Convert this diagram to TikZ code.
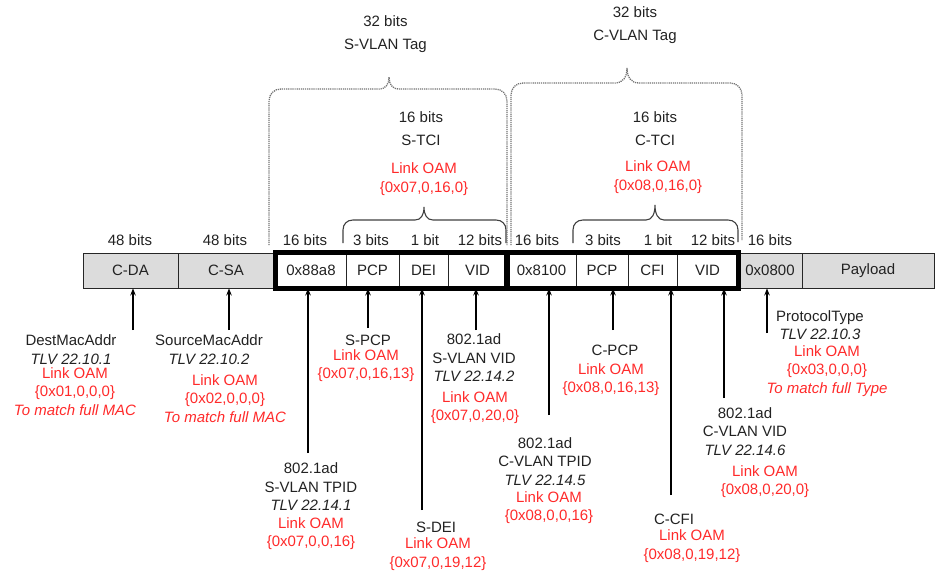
\documentclass[tikz,border=0pt]{standalone}
\usepackage{fontspec}
\setmainfont{Liberation Sans}
\usetikzlibrary{arrows.meta}
\definecolor{oamred}{HTML}{FF2A2A}
\definecolor{fieldgray}{HTML}{DCDCDC}
\definecolor{inkgray}{HTML}{222222}
\begin{document}
\begin{tikzpicture}[x=1pt,y=-1pt,
  txt/.style={font=\fontsize{15}{18.5}\selectfont, align=center, inner sep=0pt, text=inkgray},
  oamtxt/.style={txt, text=oamred},
  field/.style={draw=black!85, line width=0.9pt, minimum height=35pt, inner sep=0pt, txt},
  grayfield/.style={field, fill=fieldgray},
  tagbox/.style={draw=black, line width=4.5pt},
  arr/.style={draw=black, line width=1.1pt, -{Stealth[length=7pt,width=5.5pt]}},
  tcibrace/.style={draw=black!75, line width=1.1pt},
  tagbrace/.style={draw=black!55, line width=1.3pt, dash pattern=on 1.2pt off 0.9pt}
]
\useasboundingbox (0,0) rectangle (935,571);

% ---------- frame fields ----------
\node[grayfield, minimum width=95] (cda) at (130.5,270.5) {C-DA};
\node[grayfield, minimum width=96] (csa) at (226,270.5) {C-SA};
\node[field, minimum width=70] (tpidS) at (311,270.5) {0x88a8};
\node[field, minimum width=53] (pcpS) at (372.5,270.5) {PCP};
\node[field, minimum width=49] (dei) at (423.5,270.5) {DEI};
\node[field, minimum width=59] (vidS) at (477.5,270.5) {VID};
\node[field, minimum width=69] (tpidC) at (541.5,270.5) {0x8100};
\node[field, minimum width=52] (pcpC) at (602,270.5) {PCP};
\node[field, minimum width=49] (cfi) at (652.5,270.5) {CFI};
\node[field, minimum width=61] (vidC) at (707.5,270.5) {VID};
\node[grayfield, minimum width=64] (etype) at (770,270.5) {0x0800};
\node[grayfield, minimum width=132] (payload) at (868,270.5) {Payload};
\draw[tagbox] (tpidS.north west) rectangle (vidS.south east);
\draw[tagbox] (tpidC.north west) rectangle (vidC.south east);

% ---------- bit widths ----------
\node[txt] (b1) at (130,240) {48 bits};
\node[txt] (b2) at (225,240) {48 bits};
\node[txt] (b3) at (305,240) {16 bits};
\node[txt] (b4) at (371,240) {3 bits};
\node[txt] (b5) at (425,240) {1 bit};
\node[txt] (b6) at (480,240) {12 bits};
\node[txt] (b7) at (537,240) {16 bits};
\node[txt] (b8) at (603,240) {3 bits};
\node[txt] (b9) at (658,240) {1 bit};
\node[txt] (b10) at (713,240) {12 bits};
\node[txt] (b11) at (770,240) {16 bits};

% ---------- TCI braces ----------
\draw[tcibrace] (343,243) -- (343,230) .. controls (343,224) and (347,220) .. (353,220)
  -- (415,220) .. controls (421,220) and (424,215) .. (424,207)
  .. controls (424,215) and (427,220) .. (433,220) -- (496,220)
  .. controls (502,220) and (506,224) .. (506,230) -- (506,243);
\draw[tcibrace] (573,243) -- (573,230) .. controls (573,224) and (577,220) .. (583,220)
  -- (646,220) .. controls (652,220) and (655,214) .. (655,205)
  .. controls (655,214) and (658,220) .. (664,220) -- (728,220)
  .. controls (734,220) and (738,224) .. (738,230) -- (738,242);

% ---------- tag braces (dotted) ----------
\draw[tagbrace] (269,245) -- (269,101) .. controls (269,94) and (274,89) .. (281,89)
  -- (379,89) .. controls (386,89) and (389,84) .. (389,77)
  .. controls (389,84) and (392,89) .. (399,89) -- (495,89)
  .. controls (502,89) and (507,94) .. (507,101) -- (507,245);
\draw[tagbrace] (511,245) -- (511,95) .. controls (511,88) and (516,83) .. (523,83)
  -- (615,83) .. controls (623,83) and (627,77) .. (627,68)
  .. controls (627,77) and (631,83) .. (639,83) -- (730,83)
  .. controls (737,83) and (742,88) .. (742,95) -- (742,240);

% ---------- top labels ----------
\node[txt] (stag) at (385.5,34) {32 bits\\[4pt]S-VLAN Tag};
\node[txt] (ctag) at (635,25) {32 bits\\[4pt]C-VLAN Tag};
\node[txt] (stci) at (421,128.5) {16 bits\\[4pt]S-TCI};
\node[txt] (ctci) at (655,128.5) {16 bits\\[4pt]C-TCI};
\node[oamtxt] (stcioam) at (424,179) {Link OAM\\\{0x07,0,16,0\}};
\node[oamtxt] (ctcioam) at (658,177) {Link OAM\\\{0x08,0,16,0\}};

% ---------- arrows ----------
\coordinate (a1) at (133,330);
\coordinate (a2) at (229,330);
\coordinate (a3) at (308,453);
\coordinate (a4) at (368,328);
\coordinate (a5) at (422,510);
\coordinate (a6) at (476,330);
\coordinate (a7) at (549,415);
\coordinate (a8) at (613,330);
\coordinate (a9) at (671,495);
\coordinate (a10) at (724,398);
\coordinate (a11) at (767,333);
\draw[arr] (a1) -- (a1 |- cda.south);
\draw[arr] (a2) -- (a2 |- csa.south);
\draw[arr] (a3) -- (a3 |- tpidS.south);
\draw[arr] (a4) -- (a4 |- pcpS.south);
\draw[arr] (a5) -- (a5 |- dei.south);
\draw[arr] (a6) -- (a6 |- vidS.south);
\draw[arr] (a7) -- (a7 |- tpidC.south);
\draw[arr] (a8) -- (a8 |- pcpC.south);
\draw[arr] (a9) -- (a9 |- cfi.south);
\draw[arr] (a10) -- (a10 |- vidC.south);
\draw[arr] (a11) -- (a11 |- etype.south);

% ---------- field descriptions ----------
\node[txt] (dmac) at (71,349.5) {DestMacAddr\\\textit{TLV 22.10.1}};
\node[oamtxt] (dmacoam) at (75,391.5) {Link OAM\\\{0x01,0,0,0\}\\\textit{To match full MAC}};
\node[txt] (smac) at (209,349.5) {SourceMacAddr\\\textit{TLV 22.10.2}};
\node[oamtxt] (smacoam) at (225,398.5) {Link OAM\\\{0x02,0,0,0\}\\\textit{To match full MAC}};

\node[txt] (spcp) at (368,340) {S-PCP};
\node[oamtxt] (spcpoam) at (366,365.5) {Link OAM\\\{0x07,0,16,13\}};

\node[txt] (svid) at (474,358) {802.1ad\\S-VLAN VID\\\textit{TLV 22.14.2}};
\node[oamtxt] (svidoam) at (475,407.5) {Link OAM\\\{0x07,0,20,0\}};

\node[txt] (stpid) at (311,487) {802.1ad\\S-VLAN TPID\\\textit{TLV 22.14.1}};
\node[oamtxt] (stpidoam) at (311,533.5) {Link OAM\\\{0x07,0,0,16\}};

\node[txt] (sdei) at (436,527) {S-DEI};
\node[oamtxt] (sdeioam) at (438,554) {Link OAM\\\{0x07,0,19,12\}};

\node[txt] (ctpid) at (545,461.5) {802.1ad\\C-VLAN TPID\\\textit{TLV 22.14.5}};
\node[oamtxt] (ctpidoam) at (549,507.5) {Link OAM\\\{0x08,0,0,16\}};

\node[txt] (cpcp) at (615,350) {C-PCP};
\node[oamtxt] (cpcpoam) at (611,379.5) {Link OAM\\\{0x08,0,16,13\}};

\node[txt] (ccfi) at (674,519) {C-CFI};
\node[oamtxt] (ccfioam) at (692,546) {Link OAM\\\{0x08,0,19,12\}};

\node[txt] (cvid) at (745,431.5) {802.1ad\\C-VLAN VID\\\textit{TLV 22.14.6}};
\node[oamtxt] (cvidoam) at (765,481.5) {Link OAM\\\{0x08,0,20,0\}};

\node[txt] (ptype) at (820,325) {ProtocolType\\\textit{TLV 22.10.3}};
\node[oamtxt] (ptypeoam) at (827,371) {Link OAM\\\{0x03,0,0,0\}\\\textit{To match full Type}};
\end{tikzpicture}
\end{document}
